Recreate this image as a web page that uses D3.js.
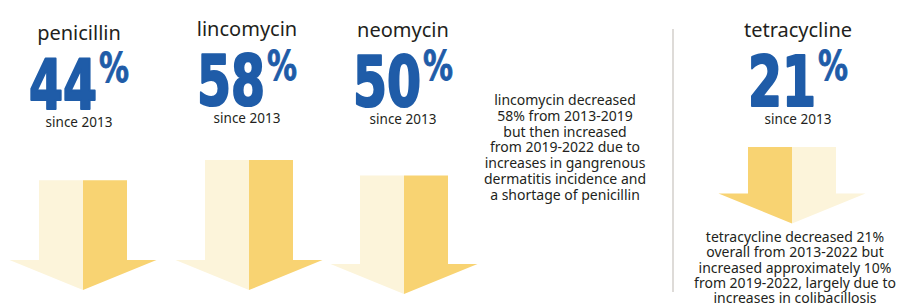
<!DOCTYPE html>
<html>
<head>
<meta charset="utf-8">
<script src="https://cdn.jsdelivr.net/npm/d3@7"></script>
<style>
  html, body { margin: 0; padding: 0; background: #fff; }
  svg { display: block; }
</style>
</head>
<body>
<div id="vis"></div>
<script>
// drug names and % decrease since 2013
const drugs = ["penicillin", "lincomycin", "neomycin", "tetracycline"];
const decrease = [44, 58, 50, 21];
const sinceLabel = "since 2013";

const lincoNote = [
  "lincomycin decreased",
  "58% from 2013-2019",
  "but then increased",
  "from 2019-2022 due to",
  "increases in gangrenous",
  "dermatitis incidence and",
  "a shortage of penicillin"
];
const tetraNote = [
  "tetracycline decreased 21%",
  "overall from 2013-2022 but",
  "increased approximately 10%",
  "from 2019-2022, largely due to",
  "increases in colibacillosis"
];

const width = 912, height = 307;
const blue = "#1f5ca8", ink = "#231f20";
const light = "#fcf4da", dark = "#f8d372";

// layout for each panel (text centre, arrow centre)
const panelX = [79, 247, 403, 798];
const arrowX = [83, 249, 404, 792];
const panelDy = [3, -1, 0, 0];

const svg = d3.select("#vis").append("svg")
  .attr("width", width)
  .attr("height", height);

// arrow length follows the percentage
const len = d3.scaleLinear().domain([0, 60]).range([46, 133]);

const shaftHalf = 44, headHalf = 73.5, headH = 30;

function arrowParts(cx, top, bottom, flip) {
  const neck = bottom - headH;
  const left = [[cx - shaftHalf, top], [cx, top], [cx, bottom], [cx - headHalf, neck], [cx - shaftHalf, neck]];
  const right = [[cx, top], [cx + shaftHalf, top], [cx + shaftHalf, neck], [cx + headHalf, neck], [cx, bottom]];
  return flip ? [[left, dark], [right, light]] : [[left, light], [right, dark]];
}

const line = d3.line();
const bigFont = "'Liberation Sans Narrow', 'DejaVu Sans Condensed', sans-serif";

drugs.forEach((name, i) => {
  const cx = panelX[i], dy = panelDy[i];
  const g = svg.append("g");

  g.append("text")
    .attr("x", cx).attr("y", 37 + dy)
    .attr("text-anchor", "middle")
    .attr("font-family", "'Noto Sans', sans-serif")
    .attr("font-size", 20)
    .attr("fill", ink)
    .text(name);

  // big number + superscript %
  const numW = 68, pctW = 30, gap = 2;
  const x0 = cx - (numW + gap + pctW) / 2;
  g.append("text")
    .attr("x", x0).attr("y", 106 + dy)
    .attr("font-family", bigFont)
    .attr("font-weight", "bold")
    .attr("font-size", 70)
    .attr("fill", blue)
    .attr("stroke", blue)
    .attr("stroke-width", 2.2)
    .attr("stroke-linejoin", "round")
    .attr("textLength", numW)
    .attr("lengthAdjust", "spacingAndGlyphs")
    .text(decrease[i]);
  g.append("text")
    .attr("x", x0 + numW + gap).attr("y", 80 + dy * 0.5)
    .attr("font-family", bigFont)
    .attr("font-weight", "bold")
    .attr("font-size", 40)
    .attr("fill", blue)
    .attr("stroke", blue)
    .attr("stroke-width", 0.8)
    .attr("textLength", pctW)
    .attr("lengthAdjust", "spacingAndGlyphs")
    .text("%");

  g.append("text")
    .attr("x", cx).attr("y", 124 + dy)
    .attr("text-anchor", "middle")
    .attr("font-family", "'Noto Sans', sans-serif")
    .attr("font-size", 13.5)
    .attr("fill", ink)
    .text(sinceLabel);

  // arrows: first three hang down to a common baseline, tetracycline sits under its label
  const L = len(decrease[i]);
  let top, bottom;
  if (i < 3) {
    bottom = i === 2 ? 294 : 290;
    top = bottom - L;
  } else {
    top = 147;
    bottom = top + L;
  }
  arrowParts(arrowX[i], top, bottom, i === 3).forEach(([pts, col]) => {
    g.append("path")
      .attr("d", line(pts) + "Z")
      .attr("fill", col);
  });
});

// divider
svg.append("line")
  .attr("x1", 673).attr("x2", 673)
  .attr("y1", 29).attr("y2", 292)
  .attr("stroke", "#d3cfcb")
  .attr("stroke-width", 1.5);

function note(lines, cx, y0, lh) {
  svg.append("text")
    .attr("text-anchor", "middle")
    .attr("font-family", "'Noto Sans', sans-serif")
    .attr("font-size", 14)
    .attr("fill", ink)
    .selectAll("tspan")
    .data(lines)
    .join("tspan")
    .attr("x", cx)
    .attr("y", (d, k) => y0 + k * lh)
    .text(d => d);
}

note(lincoNote, 565, 105, 15.8);
note(tetraNote, 795, 242, 15.3);
</script>
</body>
</html>
